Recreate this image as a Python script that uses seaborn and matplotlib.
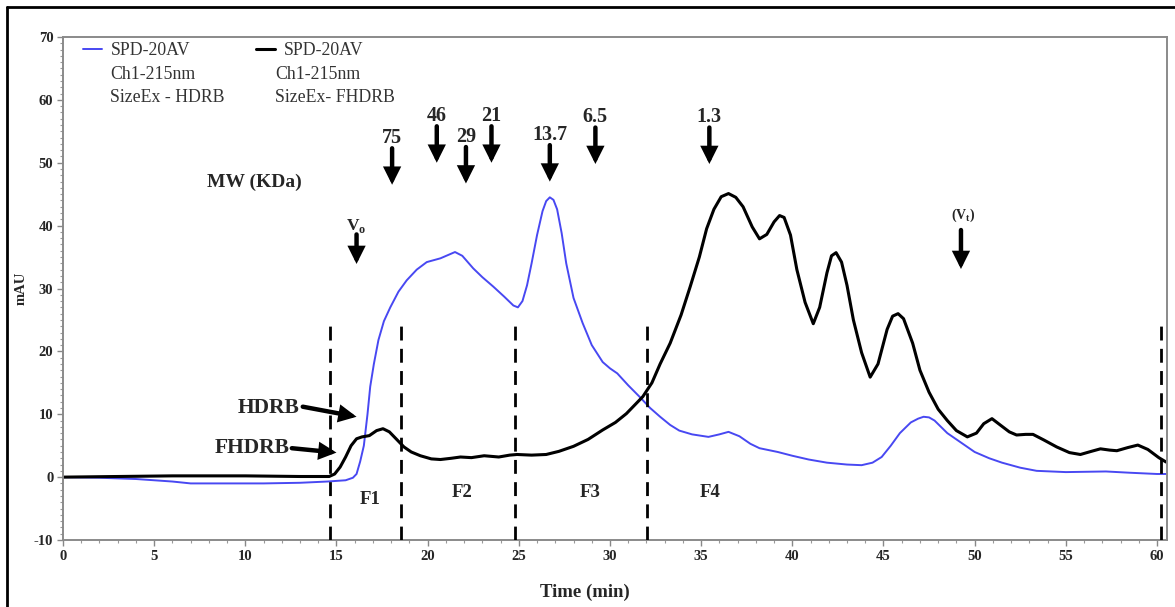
import matplotlib
matplotlib.use("Agg")
import matplotlib.pyplot as plt
import seaborn as sns
import numpy as np
from matplotlib.lines import Line2D
from matplotlib.ticker import MultipleLocator

# ---------------- data ----------------
hdrb_time = [0, 2, 4, 6, 7, 9, 11, 13, 14.5, 15.5, 15.9, 16.1, 16.3, 16.5, 16.7, 16.85,
             17.05, 17.3, 17.6, 17.95, 18.4, 18.85, 19.4, 19.95, 20.7, 21.1, 21.5, 21.9,
             22.5, 23.0, 23.6, 24.2, 24.7, 24.95, 25.2, 25.45, 25.7, 26.0, 26.3, 26.5,
             26.7, 26.9, 27.1, 27.35, 27.6, 28.0, 28.5, 29.0, 29.6, 30.0, 30.4, 31.0,
             31.65, 32.2, 32.75, 33.3, 33.8, 34.5, 35.4, 36.0, 36.5, 37.1, 37.7, 38.2,
             39.2, 40.0, 40.9, 41.9, 43.0, 43.8, 44.4, 44.9, 45.4, 45.9, 46.5, 46.9,
             47.2, 47.5, 47.8, 48.5, 49.2, 50.0, 50.8, 51.5, 52.5, 53.4, 55.0, 57.2,
             58.5, 60.0, 60.5]
hdrb_mau = [0.0, -0.1, -0.3, -0.7, -1.0, -1.0, -1.0, -0.9, -0.7, -0.5, -0.1, 0.5, 2.5,
            5.0, 10.0, 14.4, 18.0, 21.8, 24.8, 27.0, 29.5, 31.3, 33.0, 34.2, 34.8, 35.3,
            35.8, 35.2, 33.2, 31.8, 30.3, 28.7, 27.3, 27.0, 28.0, 30.5, 34.0, 38.5, 42.3,
            43.9, 44.5, 44.1, 42.6, 38.8, 34.0, 28.5, 24.5, 21.0, 18.3, 17.3, 16.5, 14.6,
            12.7, 11.0, 9.6, 8.3, 7.4, 6.8, 6.4, 6.8, 7.2, 6.5, 5.3, 4.6, 4.0, 3.4, 2.8,
            2.3, 2.0, 1.9, 2.3, 3.2, 5.0, 7.0, 8.7, 9.3, 9.6, 9.5, 9.0, 7.0, 5.6, 4.0,
            3.0, 2.3, 1.5, 1.0, 0.8, 0.9, 0.7, 0.5, 0.5]

fhdrb_time = [0, 3, 6, 10, 13, 14.6, 14.9, 15.2, 15.5, 15.8, 16.1, 16.4, 16.8, 17.2,
              17.55, 17.9, 18.3, 18.7, 19.1, 19.6, 20.2, 20.7, 21.3, 21.8, 22.4, 23.1,
              23.9, 24.5, 24.9, 25.7, 26.5, 27.2, 28.0, 28.8, 29.6, 30.3, 30.9, 31.4,
              31.8, 32.3, 32.75, 33.3, 33.9, 34.4, 34.9, 35.3, 35.7, 36.1, 36.5, 36.9,
              37.3, 37.8, 38.2, 38.6, 39.0, 39.3, 39.55, 39.9, 40.25, 40.7, 41.15,
              41.5, 41.9, 42.15, 42.4, 42.7, 43.0, 43.35, 43.8, 44.27, 44.7, 45.2,
              45.5, 45.8, 46.1, 46.6, 47.0, 47.5, 48.0, 48.5, 49.0, 49.6, 50.1, 50.5,
              50.95, 51.4, 51.9, 52.3, 52.8, 53.2, 53.8, 54.5, 55.2, 55.8, 56.4, 56.9,
              57.4, 57.8, 58.4, 58.95, 59.5, 60.1, 60.5]
fhdrb_mau = [0.0, 0.1, 0.2, 0.2, 0.1, 0.1, 0.5, 1.6, 3.2, 5.0, 6.1, 6.4, 6.6, 7.4, 7.7,
             7.2, 6.0, 4.8, 4.0, 3.4, 2.9, 2.8, 3.0, 3.2, 3.1, 3.4, 3.2, 3.5, 3.6, 3.5,
             3.6, 4.1, 4.9, 6.0, 7.5, 8.7, 10.1, 11.6, 12.8, 15.0, 18.0, 21.3, 25.8,
             30.3, 35.0, 39.5, 42.6, 44.6, 45.1, 44.5, 43.0, 39.8, 37.9, 38.6, 40.6,
             41.6, 41.3, 38.5, 33.0, 27.8, 24.4, 27.0, 32.5, 35.2, 35.7, 34.2, 30.5,
             25.0, 19.8, 15.9, 18.0, 23.5, 25.6, 26.0, 25.2, 21.3, 17.0, 13.5, 10.8,
             9.0, 7.4, 6.4, 7.0, 8.5, 9.3, 8.3, 7.2, 6.7, 6.8, 6.8, 5.9, 4.8, 3.9, 3.6,
             4.1, 4.5, 4.3, 4.2, 4.7, 5.1, 4.4, 3.1, 2.4]

legend_titles = ["SPD-20AV", "SPD-20AV"]
legend_sub = ["Ch1-215nm\nSizeEx - HDRB", "Ch1-215nm\nSizeEx- FHDRB"]

mw_labels = ["75", "46", "29", "21", "13.7", "6.5", "1.3"]
mw_time = [18.05, 20.5, 22.1, 23.5, 26.7, 29.2, 35.45]
mw_label_y = [53.9, 57.4, 54.1, 57.4, 54.4, 57.2, 57.2]

fraction_cuts = [14.65, 18.55, 24.8, 32.05, 60.2]
fraction_labels = ["F1", "F2", "F3", "F4"]
fraction_pos = [(16.85, -3.6), (21.9, -2.5), (28.9, -2.5), (35.5, -2.5)]

xticks = list(range(0, 61, 5))
yticks = list(range(-10, 71, 10))

# ---------------- style ----------------
sns.set_theme(style="ticks")
plt.rcParams['font.family'] = ['Liberation Serif', 'DejaVu Serif']
plt.rcParams['axes.unicode_minus'] = False

fig = plt.figure(figsize=(11.75, 6.07), dpi=100)
ax = fig.add_axes([63 / 1175, 1 - 540 / 607, 1104 / 1175, 503 / 607])

BLUE = "#4848f2"
sns.lineplot(x=hdrb_time, y=hdrb_mau, ax=ax, color=BLUE, lw=1.4,
             estimator=None, sort=False, label=legend_titles[0])
sns.lineplot(x=fhdrb_time, y=fhdrb_mau, ax=ax, color="black", lw=2.2,
             estimator=None, sort=False, label=legend_titles[1])

ax.set_xlim(0, 60.55)
ax.set_ylim(-10, 70)
ax.set_xticks(xticks)
ax.set_yticks(yticks)
ax.xaxis.set_minor_locator(MultipleLocator(1))
ax.yaxis.set_minor_locator(MultipleLocator(1))
ax.tick_params(which='major', direction='out', length=4, width=1, color='#888888',
               labelsize=10.5, pad=3)
ax.tick_params(which='minor', direction='out', length=2.5, width=0.8, color='#999999')
for lab in ax.get_xticklabels() + ax.get_yticklabels():
    lab.set_fontweight('bold')
for sp in ax.spines.values():
    sp.set_color('#8a8a8a')
    sp.set_linewidth(1.4)
ax.set_xlabel("")
ax.set_ylabel("mAU", fontsize=10.5, fontweight='bold')
ax.yaxis.set_label_coords(-(63 - 28) / 1104, 0.5)
fig.text(585 / 1175, 1 - 592 / 607, "Time (min)", ha='center', va='center',
         fontsize=13.5, fontweight='bold')

# legend
leg = ax.legend(loc='upper left', bbox_to_anchor=(0.018, 0.99), ncol=2, frameon=False,
                fontsize=12.8, handlelength=1.1, handletextpad=0.45, columnspacing=3.7,
                borderpad=0, borderaxespad=0)
for t in leg.get_texts():
    t.set_color('#333333')
ax.text((110 - 63) / 1104, 0.943, legend_sub[0], transform=ax.transAxes, ha='left',
        va='top', fontsize=12.8, color='#333333', linespacing=1.45)
ax.text((275 - 63) / 1104, 0.943, legend_sub[1], transform=ax.transAxes, ha='left',
        va='top', fontsize=12.8, color='#333333', linespacing=1.45)

arrow_kw = dict(arrowstyle='-|>', color='black', lw=3.2, mutation_scale=20,
                shrinkA=0, shrinkB=0, joinstyle='miter')

# MW markers
ax.text(10.5, 46.9, "MW (KDa)", ha='center', va='center', fontsize=14, fontweight='bold')
for lab, t, ly in zip(mw_labels, mw_time, mw_label_y):
    ax.text(t, ly, lab, ha='center', va='center', fontsize=14.5, fontweight='bold')
    ax.annotate("", xy=(t, ly - 7.4), xytext=(t, ly - 1.6), arrowprops=arrow_kw)

# Vo and Vt
ax.text(16.1, 40.0, r"V$_\mathregular{o}$", ha='center', va='center', fontsize=12.5,
        fontweight='bold')
ax.annotate("", xy=(16.1, 33.9), xytext=(16.1, 38.6), arrowprops=arrow_kw)
ax.text(49.4, 41.6, r"(V$_\mathregular{t}$)", ha='center', va='center', fontsize=10,
        fontweight='bold')
ax.annotate("", xy=(49.25, 33.1), xytext=(49.25, 39.3), arrowprops=arrow_kw)

# sample labels with arrows
ax.text(12.95, 11.0, "HDRB", ha='right', va='center', fontsize=15.5, fontweight='bold')
ax.annotate("", xy=(16.1, 9.6), xytext=(13.15, 11.2), arrowprops=arrow_kw)
ax.text(12.45, 4.6, "FHDRB", ha='right', va='center', fontsize=15.5, fontweight='bold')
ax.annotate("", xy=(15.0, 3.9), xytext=(12.55, 4.6), arrowprops=arrow_kw)

# fraction cut lines and labels
for c in fraction_cuts:
    ax.plot([c, c], [-10, 24], color='black', lw=2.0, ls=(0, (5, 3)), zorder=3)
for lab, (t, y) in zip(fraction_labels, fraction_pos):
    ax.text(t, y, lab, ha='center', va='center', fontsize=13.5, fontweight='bold')

# outer frame (left and top)
fig.add_artist(Line2D([7 / 1175, 7 / 1175], [0, 1 - 7 / 607], color='black', lw=2,
                      transform=fig.transFigure))
fig.add_artist(Line2D([7 / 1175, 1], [1 - 7 / 607, 1 - 7 / 607], color='black', lw=2,
                      transform=fig.transFigure))

fig.savefig("out.png", dpi=100)
